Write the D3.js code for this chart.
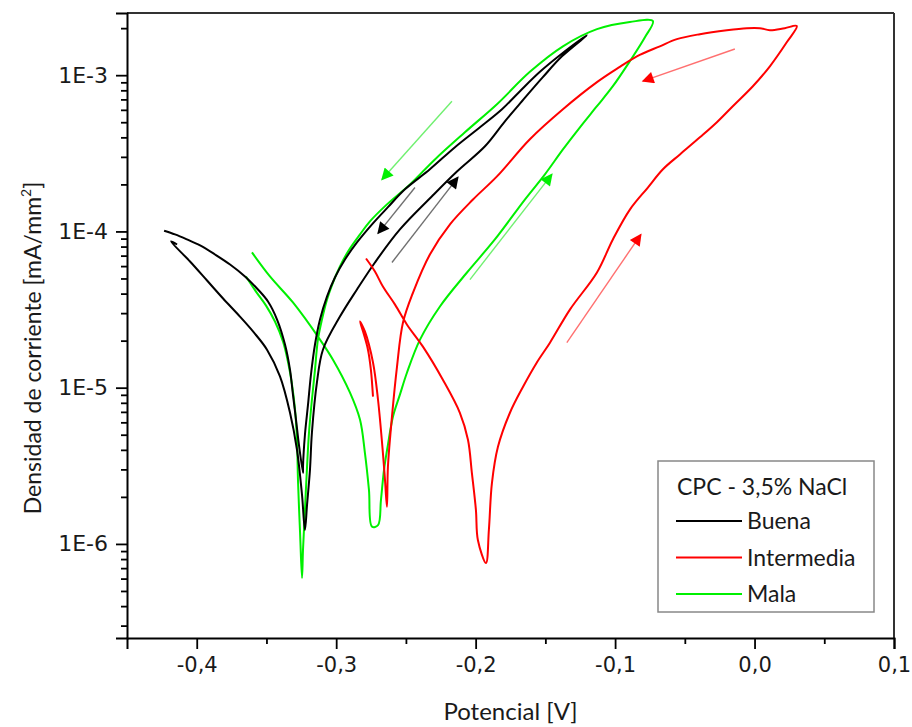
<!DOCTYPE html>
<html><head><meta charset="utf-8">
<script src="https://cdn.jsdelivr.net/npm/d3@7"></script>
<style>body{margin:0;background:#fff} svg{display:block}</style>
</head><body>
<svg id="c" width="912" height="727"></svg>
<script>
// ---------- DATA ----------
const seriesNames = ["Buena", "Intermedia", "Mala"];
const legendTitle = "CPC - 3,5% NaCl";

// Buena (black): potential [V]
const buenaV = [-0.4141,-0.4184,-0.4048,-0.3926,-0.3811,-0.3690,-0.3589,-0.3496,-0.3403,-0.3331,-0.3281,-0.3245,-0.3224,
  -0.3209,-0.3188,-0.3174,-0.3138,-0.3095,-0.2973,-0.2851,-0.2722,-0.2543,-0.2313,-0.2134,-0.1933,-0.1790,-0.1668,-0.1518,-0.1381,-0.1202,
  -0.1396,-0.1539,-0.1682,-0.1811,-0.1969,-0.2148,-0.2328,-0.2507,-0.2629,-0.2743,-0.2851,-0.2937,-0.3009,-0.3066,-0.3116,-0.3152,-0.3181,-0.3202,-0.3224,-0.3238,-0.3238,
  -0.3267,-0.3288,-0.3310,-0.3331,-0.3367,-0.3424,-0.3489,-0.3561,-0.3654,-0.3761,-0.3869,-0.3976,-0.4070,-0.4156,-0.4234];
// Buena current density [mA/mm2]
const buenaI = [8.25e-5,8.63e-5,6.42e-5,4.85e-5,3.72e-5,2.85e-5,2.25e-5,1.75e-5,1.18e-5,6.91e-6,4.00e-6,2.06e-6,1.23e-6,
  1.78e-6,2.98e-6,5.15e-6,1.08e-5,1.75e-5,2.85e-5,4.25e-5,6.33e-5,1.03e-4,1.68e-4,2.42e-4,3.51e-4,5.07e-4,6.81e-4,9.71e-4,1.32e-3,1.80e-3,
  1.34e-3,1.05e-3,7.90e-4,6.05e-4,4.64e-4,3.46e-4,2.50e-4,1.86e-4,1.43e-4,1.11e-4,8.50e-5,6.61e-5,5.07e-5,3.83e-5,2.73e-5,1.89e-5,1.21e-5,7.78e-6,5.00e-6,3.11e-6,2.85e-6,
  4.31e-6,6.23e-6,9.02e-6,1.30e-5,1.89e-5,2.73e-5,3.56e-5,4.25e-5,5.15e-5,6.14e-5,7.12e-5,8.14e-5,8.89e-5,9.57e-5,1.01e-4];

// Intermedia (red)
const interV = [-0.2786,-0.2722,-0.2665,-0.2578,-0.2492,-0.2378,-0.2234,-0.2113,-0.2055,-0.2027,-0.1998,-0.1984,-0.1926,
  -0.1905,-0.1883,-0.1840,-0.1754,-0.1661,-0.1561,-0.1467,-0.1324,-0.1130,-0.1016,-0.0894,-0.0765,-0.0657,-0.0535,-0.0392,-0.0270,-0.0156,-0.0012,0.0110,0.0232,0.0303,
  0.0217,0.0110,0.0038,-0.0055,-0.0199,-0.0392,-0.0557,-0.0679,-0.0844,-0.0966,-0.1130,-0.1374,-0.1611,-0.1847,-0.2019,-0.2184,-0.2328,-0.2449,-0.2521,-0.2564,-0.2600,-0.2629,-0.2636,
  -0.2650,-0.2665,-0.2700,-0.2736,-0.2794,-0.2829,-0.2801,-0.2772,-0.2751,-0.2736];
const interI = [6.71e-5,5.54e-5,4.44e-5,3.40e-5,2.53e-5,1.83e-5,1.12e-5,6.91e-6,4.64e-6,2.85e-6,1.65e-6,1.06e-6,7.55e-7,
  1.23e-6,2.46e-6,4.18e-6,6.91e-6,1.01e-5,1.45e-5,1.94e-5,3.16e-5,5.46e-5,8.89e-5,1.38e-4,1.91e-4,2.50e-4,3.11e-4,4.00e-4,5.00e-4,6.33e-4,8.50e-4,1.14e-3,1.63e-3,2.06e-3,
  2.00e-3,1.94e-3,2.00e-3,2.00e-3,1.94e-3,1.83e-3,1.70e-3,1.53e-3,1.32e-3,1.13e-3,9.02e-4,6.05e-4,3.89e-4,2.25e-4,1.60e-4,1.11e-4,7.12e-5,4.06e-5,2.61e-5,1.36e-5,6.52e-6,3.11e-6,1.73e-6,
  2.57e-6,3.83e-6,8.37e-6,1.45e-5,2.29e-5,2.65e-5,2.19e-5,1.75e-5,1.30e-5,8.76e-6];

// Mala (green)
const malaV = [-0.3604,-0.3475,-0.3310,-0.3116,-0.3023,-0.2901,-0.2829,-0.2794,-0.2765,-0.2743,-0.2700,-0.2679,-0.2657,-0.2629,-0.2593,-0.2543,-0.2492,-0.2399,-0.2256,-0.2062,-0.1862,-0.1647,-0.1503,-0.1374,-0.1252,-0.1130,-0.1016,-0.0894,-0.0786,-0.0729,
  -0.0894,-0.1130,-0.1374,-0.1611,-0.1847,-0.2077,-0.2292,-0.2471,-0.2636,-0.2758,-0.2829,-0.2915,-0.2973,-0.3023,-0.3066,-0.3102,-0.3131,-0.3152,-0.3174,-0.3195,-0.3209,-0.3224,-0.3238,-0.3245,
  -0.3259,-0.3274,-0.3281,-0.3295,-0.3317,-0.3346,-0.3381,-0.3439,-0.3503,-0.3575,-0.3647];
const malaI = [7.34e-5,5.15e-5,3.51e-5,2.03e-5,1.51e-5,9.29e-6,6.23e-6,3.83e-6,2.22e-6,1.29e-6,1.32e-6,1.91e-6,2.98e-6,4.31e-6,6.52e-6,9.02e-6,1.25e-5,2.03e-5,3.31e-5,5.46e-5,8.89e-5,1.60e-4,2.32e-4,3.35e-4,4.64e-4,6.33e-4,8.50e-4,1.23e-3,1.75e-3,2.22e-3,
  2.19e-3,1.97e-3,1.53e-3,1.05e-3,6.52e-4,4.31e-4,2.89e-4,2.00e-4,1.49e-4,1.16e-4,9.57e-5,7.44e-5,5.97e-5,4.71e-5,3.66e-5,2.73e-5,2.03e-5,1.30e-5,8.37e-6,5.15e-6,3.11e-6,1.65e-6,9.15e-7,6.05e-7,
  1.18e-6,2.57e-6,4.64e-6,7.23e-6,1.05e-5,1.47e-5,1.97e-5,2.65e-5,3.35e-5,4.12e-5,5.15e-5];

// scan-direction arrows: [V start, I start, V end, I end]
const arrowsBuena = [[-0.2435,1.91e-4,-0.2700,9.71e-5],[-0.2600,6.33e-5,-0.2127,2.22e-4]];
const arrowsInter = [[-0.0141,1.47e-3,-0.0801,9.15e-4],[-0.1346,1.94e-5,-0.0815,9.57e-5]];
const arrowsMala  = [[-0.2170,6.81e-4,-0.2672,2.15e-4],[-0.2041,4.92e-5,-0.1453,2.32e-4]];

const xTickVals = [-0.4,-0.3,-0.2,-0.1,0.0,0.1];
const xTickLabels = ["-0,4","-0,3","-0,2","-0,1","0,0","0,1"];
const xMinorVals = [-0.35,-0.25,-0.15,-0.05,0.05];
const yTickVals = [1e-6,1e-5,1e-4,1e-3];
const yTickLabels = ["1E-6","1E-5","1E-4","1E-3"];
const xTitle = "Potencial [V]";
const yTitle = "Densidad de corriente [mA/mm";

// ---------- CHART ----------
const svg = d3.select("#c");
const L=127, T=13, R=894, B=638;
const x = d3.scaleLinear().domain([-0.45,0.1]).range([L,R]);
const y = d3.scaleLog().domain([2.5e-7,2.5e-3]).range([B,T]);

const colors = {Buena:"#000000", Intermedia:"#ff0000", Mala:"#00f000"};
const arrowCol = {Buena:"#707070", Intermedia:"#ff7070", Mala:"#70f070"};

// minor y ticks
const yMinor=[];
[-7,-6,-5,-4,-3].forEach(e=>{for(let k=2;k<=9;k++){const v=k*Math.pow(10,e); if(v>=2.5e-7&&v<=2.5e-3) yMinor.push(v);}});

const tickFont = "'DejaVu Sans', sans-serif";
const textFont = "Lato, 'Open Sans', sans-serif";

// frame top/right
svg.append("line").attr("x1",L).attr("x2",R).attr("y1",T).attr("y2",T).attr("stroke","#333").attr("stroke-width",2);
svg.append("line").attr("x1",R).attr("x2",R).attr("y1",T).attr("y2",B).attr("stroke","#333").attr("stroke-width",2);

// x axis
const gx = svg.append("g").attr("transform",`translate(0,${B})`)
  .call(d3.axisBottom(x).tickValues(xTickVals).tickSize(11).tickPadding(8).tickFormat((d,i)=>xTickLabels[i]));
svg.append("g").attr("transform",`translate(0,${B})`)
  .call(d3.axisBottom(x).tickValues(xMinorVals).tickSize(6).tickFormat(""))
  .call(g=>g.select(".domain").remove());
// y axis
const gy = svg.append("g").attr("transform",`translate(${L},0)`)
  .call(d3.axisLeft(y).tickValues(yTickVals).tickSize(11).tickPadding(8).tickFormat((d,i)=>yTickLabels[i]));
svg.append("g").attr("transform",`translate(${L},0)`)
  .call(d3.axisLeft(y).tickValues(yMinor).tickSize(6).tickFormat(""))
  .call(g=>g.select(".domain").remove());

svg.selectAll(".domain").attr("stroke","#000").attr("stroke-width",2);
svg.selectAll(".tick line").attr("stroke","#000").attr("stroke-width",1.8);
gx.selectAll(".tick text").attr("font-family",tickFont).attr("font-size",21).attr("fill","#1a1a1a");
gy.selectAll(".tick text").attr("font-family",tickFont).attr("font-size",22).attr("fill","#1a1a1a");

// titles
svg.append("text").attr("x",(L+R)/2).attr("y",720).attr("text-anchor","middle")
  .attr("font-family",textFont).attr("font-size",24).attr("fill","#1a1a1a").text(xTitle);
const yt = svg.append("text").attr("transform",`translate(41,348) rotate(-90)`).attr("text-anchor","middle")
  .attr("font-family",textFont).attr("font-size",23).attr("fill","#1a1a1a");
yt.append("tspan").text(yTitle);
yt.append("tspan").attr("dy",-10).attr("font-size",14).text("2");
yt.append("tspan").attr("dy",10).text("]");

// curves
const line = d3.line().x(d=>x(d[0])).y(d=>y(d[1])).curve(d3.curveCatmullRom.alpha(0.5));
const series = [
  {name:"Mala", V:malaV, I:malaI, arrows:arrowsMala},
  {name:"Buena", V:buenaV, I:buenaI, arrows:arrowsBuena},
  {name:"Intermedia", V:interV, I:interI, arrows:arrowsInter}
];
const defs = svg.append("defs");
series.forEach(s=>{
  defs.append("marker").attr("id","ah-"+s.name).attr("viewBox","0 0 10 10").attr("refX",9).attr("refY",5)
    .attr("markerWidth",14).attr("markerHeight",12).attr("markerUnits","userSpaceOnUse").attr("orient","auto")
    .append("path").attr("d","M0,0 L10,5 L0,10 Z").attr("fill",colors[s.name]);
});
series.forEach(s=>{
  const pts = s.V.map((v,i)=>[v,s.I[i]]);
  svg.append("path").datum(pts).attr("d",line).attr("fill","none")
    .attr("stroke",colors[s.name]).attr("stroke-width",2).attr("stroke-linejoin","round");
});
series.forEach(s=>{
  s.arrows.forEach(a=>{
    svg.append("line").attr("x1",x(a[0])).attr("y1",y(a[1])).attr("x2",x(a[2])).attr("y2",y(a[3]))
      .attr("stroke",arrowCol[s.name]).attr("stroke-width",1.4).attr("marker-end",`url(#ah-${s.name})`);
  });
});

// legend
const lg = svg.append("g");
lg.append("rect").attr("x",658).attr("y",461).attr("width",216).attr("height",151)
  .attr("fill","#fff").attr("stroke","#888").attr("stroke-width",1.5);
lg.append("text").attr("x",677).attr("y",495).attr("font-family",textFont).attr("font-size",23).attr("fill","#1a1a1a").text(legendTitle);
seriesNames.forEach((n,i)=>{
  const yy = 521 + i*36.5;
  lg.append("line").attr("x1",676).attr("x2",742).attr("y1",yy).attr("y2",yy).attr("stroke",colors[n]).attr("stroke-width",2);
  lg.append("text").attr("x",747).attr("y",yy+8).attr("font-family",textFont).attr("font-size",23).attr("fill","#1a1a1a").text(n);
});
</script>
</body></html>
